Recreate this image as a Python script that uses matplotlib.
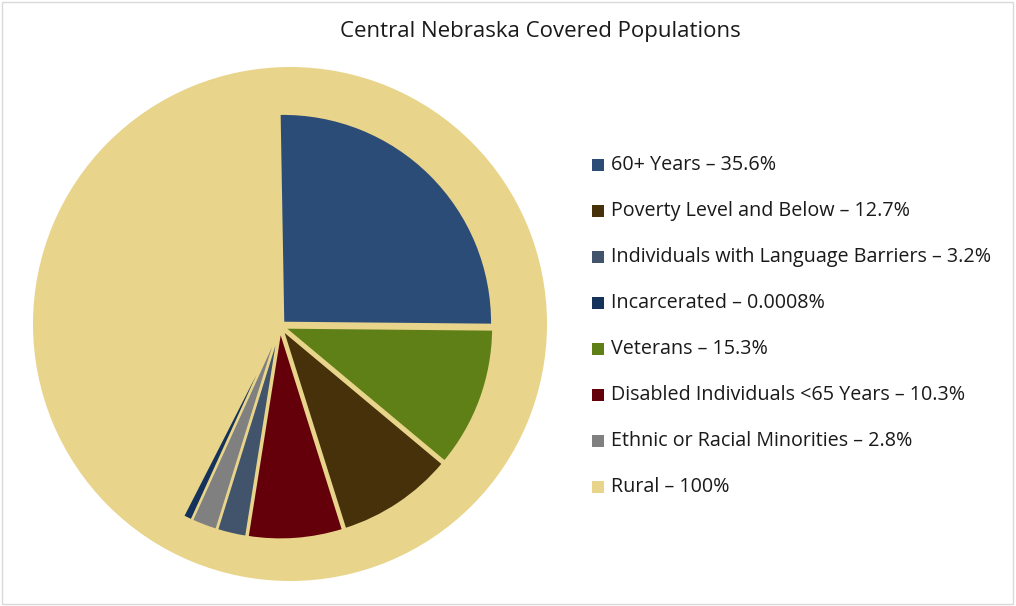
import matplotlib
matplotlib.use('Agg')
import matplotlib.pyplot as plt
from matplotlib.patches import Rectangle

plt.rcParams['font.family'] = ['Open Sans', 'DejaVu Sans']

# slices, clockwise from 12 o'clock
slice_names = ['60+ Years', 'Veterans', 'Poverty Level and Below',
               'Disabled Individuals <65 Years',
               'Individuals with Language Barriers',
               'Ethnic or Racial Minorities', 'Incarcerated']
slice_pct = [35.6, 15.3, 12.7, 10.3, 3.2, 2.8, 1.0]  # as drawn
slice_colors = ['#2c4c78', '#5f8016', '#46310a', '#64000a',
                '#42546c', '#808080', '#14325a']
pie_total = 140.0

rural_pct = [100]
rural_color = '#e8d48b'

# legend (original order and text)
legend_labels = ['60+ Years \u2013 35.6%',
                 'Poverty Level and Below \u2013 12.7%',
                 'Individuals with Language Barriers \u2013 3.2%',
                 'Incarcerated \u2013 0.0008%',
                 'Veterans \u2013 15.3%',
                 'Disabled Individuals <65 Years \u2013 10.3%',
                 'Ethnic or Racial Minorities \u2013 2.8%',
                 'Rural \u2013 100%']
legend_colors = ['#2c4c78', '#46310a', '#42546c', '#14325a',
                 '#5f8016', '#64000a', '#808080', rural_color]

W, H = 1016, 606
fig = plt.figure(figsize=(W / 100, H / 100), dpi=100)
ax = fig.add_axes([0, 0, 1, 1])

# big rural circle behind everything
ax.pie(rural_pct, colors=[rural_color], radius=257, center=(290, H - 324),
       wedgeprops=dict(linewidth=0))

# inner exploded pie
fracs = [v / pie_total for v in slice_pct]
ax.pie(fracs, colors=slice_colors, radius=209, center=(280, H - 326),
       startangle=91, counterclock=False, normalize=False,
       explode=[4.5] * len(fracs),
       wedgeprops=dict(edgecolor=rural_color, linewidth=1.6))

ax.set_xlim(0, W)
ax.set_ylim(0, H)
ax.set_aspect('equal')
ax.axis('off')

ax.text(540, H - 32, 'Central Nebraska Covered Populations',
        ha='center', va='center', fontsize=16, color='#1a1a1a')

# legend drawn by hand
for i, (lab, col) in enumerate(zip(legend_labels, legend_colors)):
    yc = H - (165 + i * 46)
    ax.add_patch(Rectangle((592, yc - 6), 12, 12, facecolor=col,
                           edgecolor='none'))
    ax.text(611, yc, lab, ha='left', va='center', fontsize=14.2,
            color='#1a1a1a')

# chart area border
fig.patches.append(Rectangle((0.002, 0.003), 0.995, 0.993,
                             transform=fig.transFigure, fill=False,
                             edgecolor='#d9d9d9', linewidth=1))

fig.savefig('out.png', dpi=100, facecolor='white')
